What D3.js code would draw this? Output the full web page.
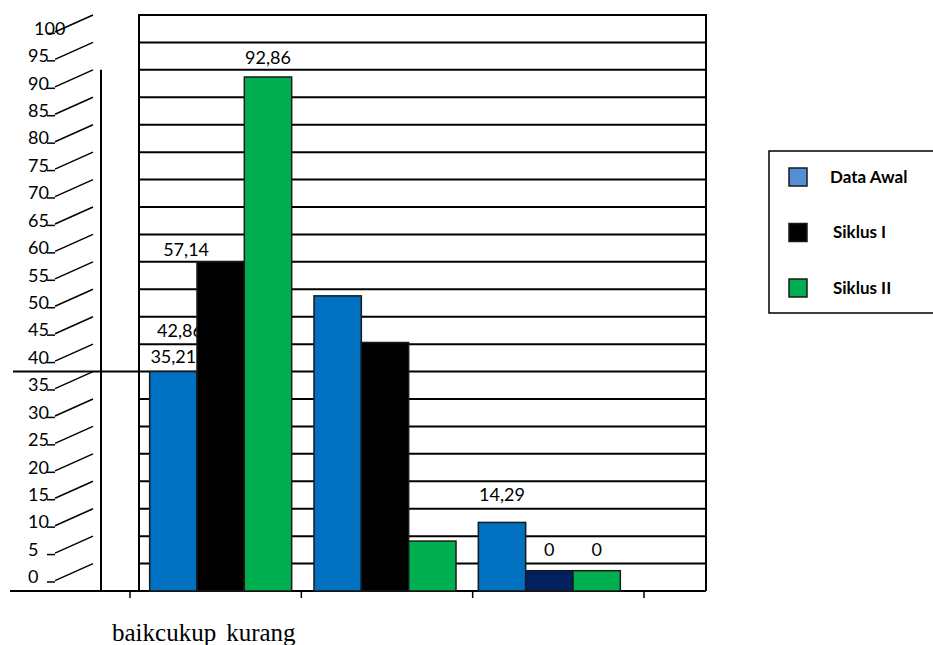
<!DOCTYPE html>
<html>
<head>
<meta charset="utf-8">
<script src="https://cdn.jsdelivr.net/npm/d3@7.9.0/dist/d3.min.js"></script>
<style>
  body { margin: 0; background: #fff; }
  svg { display: block; }
  .num { font-family: Lato, 'Open Sans', sans-serif; font-size: 18px; fill: #000; }
  .leg { font-family: Lato, 'Open Sans', sans-serif; font-size: 17px; font-weight: bold; fill: #000; }
  .cat { font-family: 'Liberation Serif', 'DejaVu Serif', serif; font-size: 25px; fill: #000; }
</style>
</head>
<body>
<svg id="chart" width="933" height="645"></svg>
<script>
// data (bar heights in axis units)
const categories = ['baik', 'cukup', 'kurang'];
const seriesNames = ['Data Awal', 'Siklus I', 'Siklus II'];
const dataAwal = [40, 53.8, 12.5];
const siklusI = [60, 45.3, 3.7];
const siklusII = [93.7, 9.1, 3.7];
const tickLabels = [0, 5, 10, 15, 20, 25, 30, 35, 40, 45, 50, 55, 60, 65, 70, 75, 80, 85, 90, 95, 100];
const valueLabels = ['35,21', '42,86', '57,14', '92,86', '14,29', '0', '0'];

const series = [dataAwal, siklusI, siklusII];
const colors = ['#0070C0', '#000000', '#00B050'];
const legendColors = ['#558ED5', '#000000', '#00B050'];

const svg = d3.select('#chart');

const y = d3.scaleLinear().domain([0, 105]).range([591, 15]);
const x0 = d3.scaleBand().domain(categories).range([130, 644]);
const groupW = 142;
const x1 = d3.scaleBand().domain(d3.range(3)).range([0, groupW]);
// groups drift left a little as in the original
const groupStart = (c) => x0(c) + (x0.bandwidth() - groupW) / 2 + 5 - categories.indexOf(c) * 7;
const gridTicks = d3.range(5, 106, 5);

// horizontal grid inside the frame
svg.append('g').selectAll('line').data(gridTicks).join('line')
  .attr('x1', 139).attr('x2', 706)
  .attr('y1', (d) => y(d)).attr('y2', (d) => y(d))
  .attr('stroke', '#000').attr('stroke-width', 2);

// frame
svg.append('path')
  .attr('d', `M139,${y(0)}V${y(105)}H706V${y(0)}`)
  .attr('fill', 'none').attr('stroke', '#000').attr('stroke-width', 2);

// second vertical line and the stray horizontal one
svg.append('line').attr('x1', 101).attr('x2', 101).attr('y1', y(95)).attr('y2', y(0))
  .attr('stroke', '#000').attr('stroke-width', 2);
svg.append('line').attr('x1', 13).attr('x2', 139).attr('y1', y(40)).attr('y2', y(40))
  .attr('stroke', '#000').attr('stroke-width', 2);

// bottom axis line + ticks at category boundaries
svg.append('line').attr('x1', 10).attr('x2', 706).attr('y1', y(0)).attr('y2', y(0))
  .attr('stroke', '#000').attr('stroke-width', 2);
const bounds = categories.map((c) => x0(c)).concat([x0.range()[1]]);
svg.append('g').selectAll('line').data(bounds).join('line')
  .attr('x1', (d) => d).attr('x2', (d) => d)
  .attr('y1', y(0)).attr('y2', y(0) + 7)
  .attr('stroke', '#000').attr('stroke-width', 1.5);

// left tick labels, slanted floor lines and small dashes
const left = svg.append('g');
left.selectAll('line.slant').data(tickLabels).join('line')
  .attr('class', 'slant')
  .attr('x1', 55).attr('y1', (d) => y(d + 5) + 17)
  .attr('x2', 93).attr('y2', (d) => y(d + 5))
  .attr('stroke', '#000').attr('stroke-width', 1.5);
left.selectAll('line.dash').data(tickLabels).join('line')
  .attr('class', 'dash')
  .attr('x1', 47).attr('x2', 55)
  .attr('y1', (d) => y(d) - 9).attr('y2', (d) => y(d) - 9)
  .attr('stroke', '#000').attr('stroke-width', 1.5);
left.selectAll('text').data(tickLabels).join('text')
  .attr('class', 'num')
  .attr('x', (d) => (d === 100 ? 34 : 28))
  .attr('y', (d) => y(d) - 14)
  .attr('dy', '0.35em')
  .text((d) => d);

// value labels (placed in axis units; some sit behind the bars as in the original)
const labelSpots = [
  { cat: 'baik', s: 0, at: 42.7 },
  { cat: 'baik', s: 0.14, at: 47.4 },
  { cat: 'baik', s: 0.27, at: 62.3 },
  { cat: 'baik', s: 2, at: 97.3 },
  { cat: 'kurang', s: 0, at: 17.5 },
  { cat: 'kurang', s: 1, at: 7.5 },
  { cat: 'kurang', s: 2, at: 7.5 },
];
svg.append('g').selectAll('text').data(valueLabels).join('text')
  .attr('class', 'num')
  .attr('text-anchor', 'middle')
  .attr('x', (d, i) => groupStart(labelSpots[i].cat) + (labelSpots[i].s + 0.5) * x1.bandwidth())
  .attr('y', (d, i) => y(labelSpots[i].at))
  .attr('dy', '0.35em')
  .text((d) => d);

// bars
const bars = svg.append('g');
series.forEach((vals, si) => {
  bars.selectAll(null).data(vals).join('rect')
    .attr('x', (d, ci) => groupStart(categories[ci]) + x1(si))
    .attr('y', (d) => y(d))
    .attr('width', x1.bandwidth())
    .attr('height', (d) => y(0) - y(d))
    .attr('fill', (d, ci) => (si === 1 && categories[ci] === 'kurang' ? '#002060' : colors[si]))
    .attr('stroke', '#1a1a1a').attr('stroke-width', 1.5);
});

// category labels, run together as in the picture
const catText = svg.append('text').attr('class', 'cat').attr('x', 112).attr('y', 641);
categories.forEach((c, i) => {
  catText.append('tspan').attr('dx', i === 2 ? 10 : 0).text(c);
});

// legend
const lg = svg.append('g');
lg.append('rect').attr('x', 769).attr('y', 151).attr('width', 200).attr('height', 162)
  .attr('fill', '#fff').attr('stroke', '#000').attr('stroke-width', 1.5);
const legY = d3.scalePoint().domain(seriesNames).range([177, 288]);
seriesNames.forEach((n, i) => {
  lg.append('rect').attr('x', 789).attr('y', legY(n) - 9).attr('width', 18).attr('height', 18)
    .attr('fill', legendColors[i]).attr('stroke', '#1a1a1a').attr('stroke-width', 1.5);
  lg.append('text').attr('class', 'leg')
    .attr('x', i === 0 ? 830 : 833).attr('y', legY(n)).attr('dy', '0.35em').text(n);
});
</script>
</body>
</html>
